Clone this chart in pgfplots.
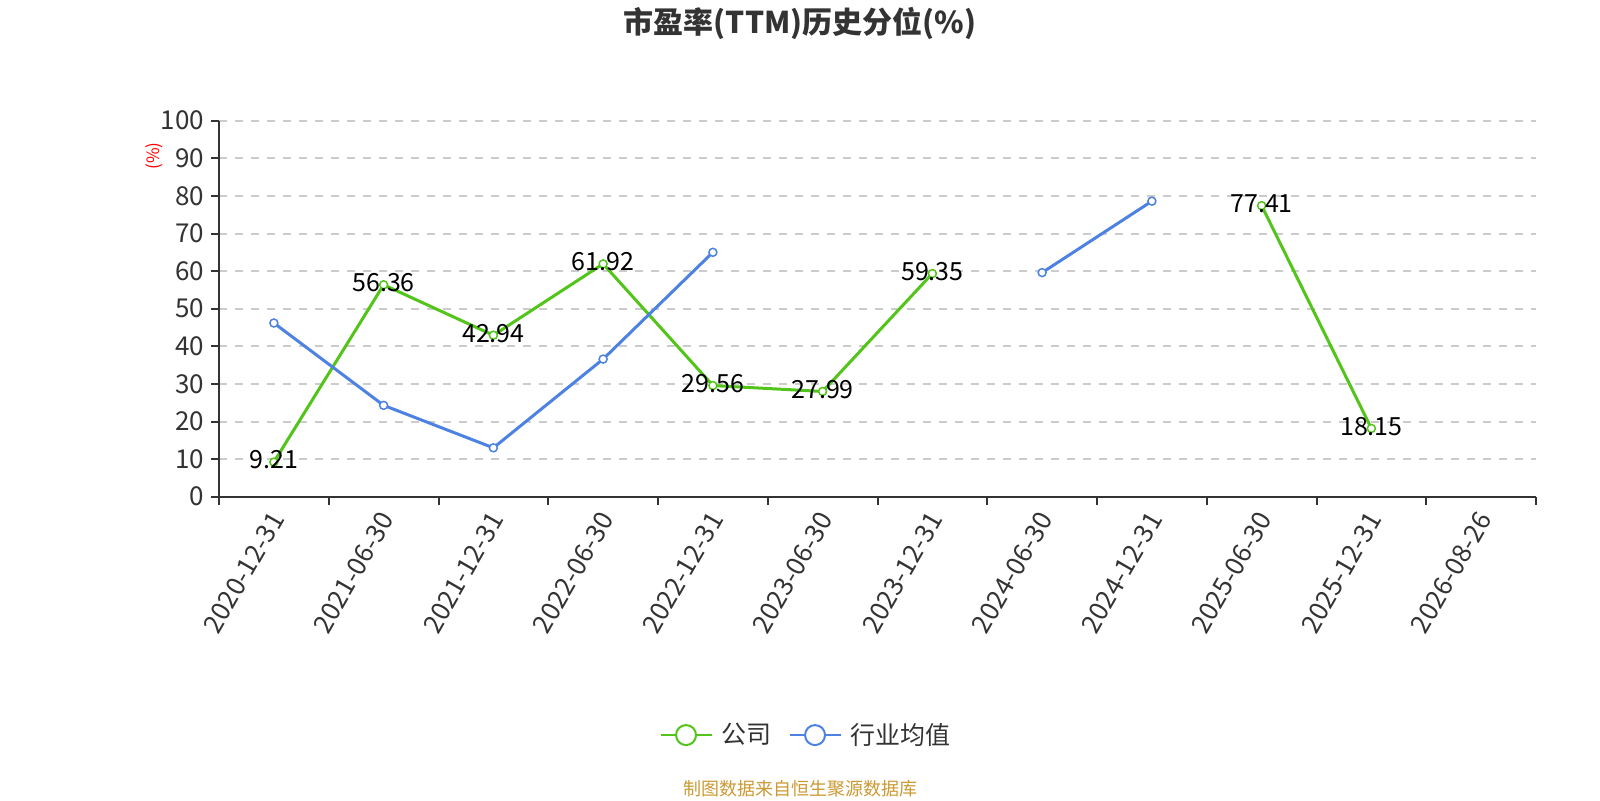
\documentclass[border=0pt]{standalone}
\usepackage{pgfplots}
\pgfplotsset{compat=1.18}
\usepackage{fontspec}
\setmainfont{Noto Sans CJK SC}
\definecolor{cgreen}{RGB}{82,196,26}
\definecolor{cblue}{RGB}{78,130,226}
\definecolor{cgrid}{RGB}{204,204,204}
\definecolor{caxis}{RGB}{51,51,51}
\definecolor{csrc}{RGB}{204,153,51}
\pgfplotstableread{
x y
0 9.21
1 56.36
2 42.94
3 61.92
4 29.56
5 27.99
6 59.35
7 nan
8 nan
9 77.41
10 18.15
11 nan
}\company
\pgfplotstableread{
x y
0 46.2
1 24.3
2 13.0
3 36.6
4 65.0
5 nan
6 nan
7 59.6
8 78.6
9 nan
10 nan
11 nan
}\industry
\begin{document}
\begin{tikzpicture}
\path[use as bounding box] (0,0) rectangle (800pt,400pt);
\node[font=\bfseries\fontsize{15}{18}\selectfont, text=caxis] at (400pt,388.25pt) {市盈率(TTM)历史分位(\%)};
\node[font=\fontsize{9}{11}\selectfont, text=csrc] at (400pt,5.5pt) {制图数据来自恒生聚源数据库};
\node[font=\fontsize{8.5}{10}\selectfont, text=red, rotate=90] at (77pt,322pt) {(\%)};
\begin{axis}[
  at={(109.5pt,151.65pt)}, anchor=south west,
  scale only axis, width=658.5pt, height=188pt,
  xmin=-0.5, xmax=11.5, ymin=0, ymax=100,
  axis x line*=bottom, axis y line*=left,
  axis line style={caxis, line width=1pt},
  /pgf/number format/assume math mode=true,
  /pgf/number format/fixed, /pgf/number format/precision=2,
  xtick={0,1,2,3,4,5,6,7,8,9,10,11},
  xticklabels={2020-12-31,2021-06-30,2021-12-31,2022-06-30,2022-12-31,2023-06-30,2023-12-31,2024-06-30,2024-12-31,2025-06-30,2025-12-31,2026-08-26},
  minor xtick={-0.5,0.5,1.5,2.5,3.5,4.5,5.5,6.5,7.5,8.5,9.5,10.5,11.5},
  major x tick style={draw=none},
  minor x tick style={caxis, line width=1pt},
  minor tick length=4pt,
  ytick={0,10,20,30,40,50,60,70,80,90,100},
  ytick style={caxis, line width=1pt},
  major tick length=4pt,
  tick align=outside,
  ymajorgrids,
  grid style={cgrid, line width=1pt, dash pattern=on 4pt off 4pt},
  xticklabel style={font=\fontsize{13}{15}\selectfont, text=caxis, rotate=60, anchor=east, yshift=-4pt},
  yticklabel style={font=\fontsize{13}{15}\selectfont, text=caxis},
  unbounded coords=jump,
  legend style={at={(0.4465,-0.634)}, anchor=center, draw=none, fill=none,
    legend columns=2, font=\fontsize{12.5}{14}\selectfont, text=caxis,
    /tikz/every odd column/.append style={column sep=2.5pt},
    /tikz/every even column/.append style={column sep=6.5pt}},
  legend cell align=left,
]
\addplot[cgreen, line width=1.5pt, mark=*, mark size=2pt,
  mark options={fill=white, draw=cgreen, solid, line width=0.75pt},
  nodes near coords,
  nodes near coords style={font=\fontsize{12.5}{14}\selectfont, text=black, anchor=center, yshift=1pt},
  legend image code/.code={
    \draw[cgreen, line width=1pt] (0pt,0pt) -- (25.5pt,0pt);
    \draw[cgreen, line width=1pt, fill=white] (12.75pt,0pt) circle (5pt);
  }] table[x=x, y=y] {\company};
\addlegendentry{公司}
\addplot[cblue, line width=1.5pt, mark=*, mark size=2pt,
  mark options={fill=white, draw=cblue, solid, line width=0.75pt},
  legend image code/.code={
    \draw[cblue, line width=1pt] (0pt,0pt) -- (25.5pt,0pt);
    \draw[cblue, line width=1pt, fill=white] (12.75pt,0pt) circle (5pt);
  }] table[x=x, y=y] {\industry};
\addlegendentry{行业均值}
\end{axis}
\end{tikzpicture}
\end{document}
